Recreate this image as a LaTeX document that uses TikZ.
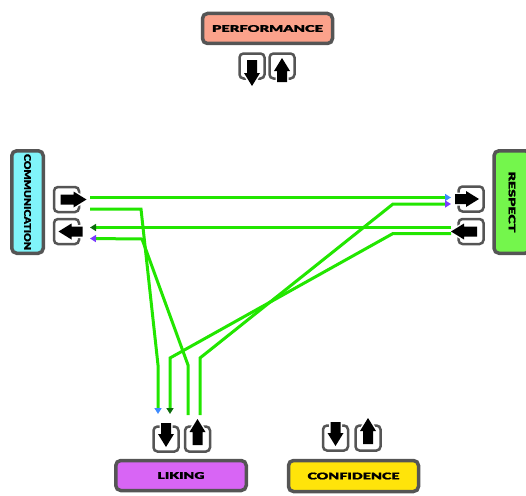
\documentclass[tikz,border=0pt]{standalone}
\usepackage{fontspec}
\usepackage{graphicx}
\usetikzlibrary{arrows.meta}
\newfontfamily\labelfont[FakeBold=1.2]{Lato Black}

\definecolor{boxgray}{HTML}{555555}
\definecolor{perfred}{HTML}{FBA28B}
\definecolor{commcyan}{HTML}{80F4FA}
\definecolor{respgreen}{HTML}{74F64C}
\definecolor{likviolet}{HTML}{D865F5}
\definecolor{confyellow}{HTML}{FFE40A}
\definecolor{linkgreen}{HTML}{22E600}
\definecolor{tipblue}{HTML}{3D8BFF}
\definecolor{tipgreen}{HTML}{0B6B0B}
\definecolor{tippurple}{HTML}{7B3BFF}

\tikzset{
  box/.style={draw=boxgray,line width=3.5pt,rounded corners=5pt,inner sep=0pt},
  port/.style={draw=boxgray,line width=2.5pt,rounded corners=4pt,minimum size=25pt,fill=white},
  link/.style={draw=linkgreen,line width=3pt},
  fromcomm/.style={-{Triangle[length=6pt,width=7pt,color=tipblue]}},
  fromresp/.style={-{Triangle[length=6pt,width=7pt,color=tipgreen]}},
  fromlik/.style={-{Triangle[length=6pt,width=7pt,color=tippurple]}}
}

\newcommand{\boxlabel}[2]{\resizebox{#1}{6.8pt}{\labelfont #2}}
% port box with arrow: name, centre, direction
\newcommand{\outport}[3]{%
  \node[port] (#1) at (#2) {};
  \fill[black,preaction={draw=white,line width=3pt},shift={(#2)},rotate=#3]
    (-6,-5) -- (7,-5) -- (7,-8) -- (20,0) -- (7,8) -- (7,5) -- (-6,5) -- cycle;
}
\newcommand{\inport}[3]{%
  \node[port] (#1) at (#2) {};
  \fill[black,preaction={draw=white,line width=3pt},shift={(#2)},rotate=#3]
    (-16,-5) -- (-5,-5) -- (-5,-8) -- (8,0) -- (-5,8) -- (-5,5) -- (-16,5) -- cycle;
}

\begin{document}
\begin{tikzpicture}[x=1pt,y=-1pt]
  \useasboundingbox (0,0) rectangle (526,495);

  \node[box,fill=perfred,minimum width=130pt,minimum height=30pt] (performance) at (267.5,28.5) {\boxlabel{111pt}{PERFORMANCE}};
  \node[box,fill=commcyan,minimum width=31.5pt,minimum height=102.5pt] (communication) at (27.5,202) {\rotatebox{-90}{\boxlabel{96pt}{COMMUNICATION}}};
  \node[box,fill=respgreen,minimum width=36pt,minimum height=102.5pt] (respect) at (512,202) {\rotatebox{-90}{\boxlabel{61pt}{RESPECT}}};
  \node[box,fill=likviolet,minimum width=130.5pt,minimum height=30pt] (liking) at (181,475.5) {\boxlabel{47pt}{LIKING}};
  \node[box,fill=confyellow,minimum width=130pt,minimum height=31pt] (confidence) at (353.5,476) {\boxlabel{92pt}{CONFIDENCE}};

  % ports
  \outport{perf-out}{252,66}{-90}
  \inport{perf-in}{282,66}{90}
  \outport{comm-out}{66.5,199.5}{0}
  \inport{comm-in}{66.5,231.5}{180}
  \inport{resp-in}{471,199}{0}
  \outport{resp-out}{471,231.5}{180}
  \inport{lik-in}{166,439}{-90}
  \outport{lik-out}{197.5,439}{90}
  \inport{conf-in}{335.5,438}{-90}
  \outport{conf-out}{368,438}{90}

  % line ends
  \coordinate (comm-out-a) at (90,197.5);
  \coordinate (comm-out-b) at (90,209);
  \coordinate (comm-in-a) at (90,227.5);
  \coordinate (comm-in-b) at (90,238.5);
  \coordinate (resp-in-a) at (451,197.5);
  \coordinate (resp-in-b) at (451,204);
  \coordinate (resp-out-a) at (451,227.5);
  \coordinate (resp-out-b) at (451,233.5);
  \coordinate (lik-in-a) at (158,414);
  \coordinate (lik-in-b) at (170,414);
  \coordinate (lik-out-a) at (188,415);
  \coordinate (lik-out-b) at (200,415);

  % links
  \draw[link,fromcomm] (comm-out-a) -- (resp-in-a);
  \draw[link,fromcomm] (comm-out-b) -- (141,209) -- (158,365) -- (lik-in-a);
  \draw[link,fromresp] (resp-out-a) -- (comm-in-a);
  \draw[link,fromresp] (resp-out-b) -- (393,233.5) -- (170,358) -- (lik-in-b);
  \draw[link,fromlik] (lik-out-a) -- (188,365) -- (142,239) -- (comm-in-b);
  \draw[link,fromlik] (lik-out-b) -- (200,358) -- (393,204) -- (resp-in-b);

\end{tikzpicture}
\end{document}
